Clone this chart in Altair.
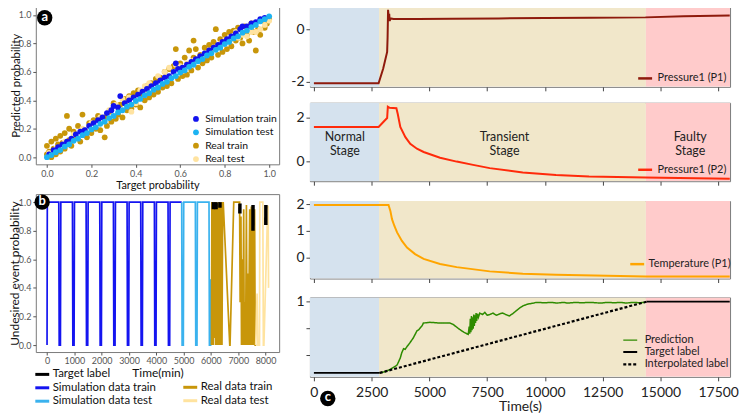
import altair as alt
import pandas as pd

FONT = "Lato"

# ================= (a) target vs predicted probability =================
a_series = ["Simulation train", "Simulation test", "Real train", "Real test"]
a_colors = ["#1212EE", "#1DB3F2", "#C8960A", "#FFE3A0"]

sim_train_pts = [(0.01, 0.02), (0.03, 0.05), (0.05, 0.07), (0.07, 0.09), (0.09, 0.11), (0.11, 0.13),
                 (0.13, 0.16), (0.15, 0.18), (0.17, 0.19), (0.19, 0.22), (0.21, 0.24), (0.23, 0.26),
                 (0.25, 0.28), (0.27, 0.31), (0.29, 0.33), (0.30, 0.36), (0.32, 0.35), (0.33, 0.43),
                 (0.35, 0.38), (0.37, 0.40), (0.39, 0.42), (0.41, 0.44), (0.43, 0.46), (0.45, 0.48),
                 (0.47, 0.50), (0.49, 0.52), (0.51, 0.54), (0.53, 0.56), (0.55, 0.57), (0.57, 0.60),
                 (0.58, 0.66), (0.59, 0.62), (0.61, 0.63), (0.63, 0.65), (0.65, 0.67), (0.67, 0.69),
                 (0.69, 0.71), (0.71, 0.73), (0.73, 0.75), (0.75, 0.77), (0.77, 0.79), (0.79, 0.81),
                 (0.81, 0.83), (0.83, 0.85), (0.85, 0.87), (0.87, 0.90), (0.88, 0.92), (0.90, 0.92),
                 (0.92, 0.94), (0.94, 0.95), (0.96, 0.97), (0.98, 0.98)]
sim_test_pts = [(0.00, 0.00), (0.02, 0.015), (0.04, 0.035), (0.06, 0.05), (0.08, 0.075), (0.10, 0.09),
                (0.12, 0.115), (0.14, 0.13), (0.16, 0.155), (0.18, 0.17), (0.20, 0.195), (0.22, 0.21),
                (0.24, 0.235), (0.26, 0.25), (0.28, 0.275), (0.30, 0.29), (0.32, 0.315), (0.34, 0.33),
                (0.36, 0.355), (0.38, 0.37), (0.40, 0.395), (0.42, 0.41), (0.44, 0.435), (0.46, 0.45),
                (0.48, 0.475), (0.50, 0.49), (0.52, 0.515), (0.54, 0.53), (0.56, 0.555), (0.58, 0.57),
                (0.60, 0.595), (0.62, 0.61), (0.64, 0.635), (0.66, 0.65), (0.68, 0.675), (0.70, 0.69),
                (0.72, 0.715), (0.74, 0.73), (0.76, 0.755), (0.78, 0.77), (0.80, 0.795), (0.82, 0.81),
                (0.84, 0.835), (0.86, 0.85), (0.88, 0.875), (0.90, 0.89), (0.92, 0.915), (0.94, 0.93),
                (0.96, 0.955), (0.98, 0.97), (1.00, 0.99)]
real_train_pts = [(0.00, 0.02), (0.00, 0.08), (0.01, 0.04), (0.02, 0.00), (0.02, 0.11), (0.03, 0.06),
                  (0.04, 0.02), (0.04, 0.13), (0.05, 0.09), (0.06, 0.04), (0.06, 0.15), (0.07, 0.10),
                  (0.08, 0.06), (0.08, 0.17), (0.09, 0.29), (0.10, 0.12), (0.10, 0.20), (0.11, 0.08),
                  (0.12, 0.18), (0.13, 0.14), (0.14, 0.22), (0.15, 0.11), (0.16, 0.30), (0.17, 0.19),
                  (0.18, 0.14), (0.19, 0.24), (0.20, 0.17), (0.21, 0.26), (0.22, 0.20), (0.23, 0.29),
                  (0.24, 0.19), (0.26, 0.14), (0.26, 0.28), (0.27, 0.22), (0.28, 0.32), (0.29, 0.25),
                  (0.30, 0.38), (0.31, 0.27), (0.32, 0.30), (0.33, 0.37), (0.34, 0.28), (0.35, 0.41),
                  (0.36, 0.33), (0.37, 0.43), (0.38, 0.34), (0.39, 0.45), (0.40, 0.37), (0.41, 0.47),
                  (0.42, 0.35), (0.43, 0.44), (0.44, 0.40), (0.45, 0.50), (0.46, 0.42), (0.47, 0.52),
                  (0.48, 0.44), (0.49, 0.55), (0.50, 0.46), (0.51, 0.56), (0.52, 0.49), (0.53, 0.60),
                  (0.54, 0.50), (0.55, 0.62), (0.56, 0.52), (0.57, 0.64), (0.58, 0.76), (0.59, 0.55),
                  (0.60, 0.66), (0.61, 0.57), (0.62, 0.70), (0.63, 0.58), (0.64, 0.75), (0.65, 0.61),
                  (0.66, 0.70), (0.67, 0.76), (0.68, 0.63), (0.69, 0.72), (0.70, 0.66), (0.71, 0.77),
                  (0.72, 0.68), (0.73, 0.79), (0.74, 0.70), (0.75, 0.81), (0.76, 0.90), (0.77, 0.72),
                  (0.78, 0.83), (0.79, 0.74), (0.80, 0.86), (0.81, 0.76), (0.82, 0.88), (0.83, 0.78),
                  (0.84, 0.89), (0.85, 0.82), (0.86, 0.91), (0.87, 0.84), (0.88, 0.80), (0.89, 0.92),
                  (0.90, 0.86), (0.91, 0.82), (0.92, 0.94), (0.93, 0.88), (0.94, 0.75), (0.95, 0.90),
                  (0.96, 0.86), (0.97, 0.96), (0.98, 0.91), (0.99, 0.94), (1.00, 0.97), (0.66, 0.82)]
real_test_pts = [(0.01, 0.03), (0.04, 0.06), (0.08, 0.11), (0.12, 0.16), (0.16, 0.20), (0.20, 0.24),
                 (0.24, 0.28), (0.28, 0.33), (0.31, 0.37), (0.34, 0.41), (0.36, 0.38), (0.38, 0.32),
                 (0.40, 0.38), (0.42, 0.47), (0.44, 0.50), (0.46, 0.52), (0.50, 0.57), (0.53, 0.60),
                 (0.55, 0.63), (0.58, 0.65), (0.60, 0.64), (0.63, 0.66), (0.66, 0.68), (0.70, 0.71),
                 (0.72, 0.73), (0.75, 0.76), (0.78, 0.80), (0.80, 0.82), (0.83, 0.83), (0.86, 0.84),
                 (0.88, 0.86), (0.90, 0.85), (0.92, 0.88), (0.94, 0.88), (0.96, 0.90), (0.98, 0.93),
                 (1.00, 0.96), (0.37, 0.42), (0.45, 0.46), (0.85, 0.88)]

# ================= (b) undesired event probability over time =================
b_sim_series = ["Target label", "Simulation data train", "Simulation data test"]
b_sim_colors = ["#000000", "#1414F0", "#3AB2EE"]
b_real_series = ["Real data train", "Real data test"]
b_real_colors = ["#C8960A", "#FFE39F"]

sim_data_train = [(0, 0), (10, 1), (430, 1), (445, 0), (490, 0), (505, 1), (930, 1), (945, 0), (990, 0),
                  (1005, 1), (1430, 1), (1445, 0), (1490, 0), (1505, 1), (1930, 1), (1945, 0), (1990, 0),
                  (2005, 1), (2430, 1), (2445, 0), (2490, 0), (2505, 1), (2930, 1), (2945, 0), (2990, 0),
                  (3005, 1), (3430, 1), (3445, 0), (3490, 0), (3505, 1), (3930, 1), (3945, 0), (3990, 0),
                  (4005, 1), (4430, 1), (4445, 0), (4490, 0), (4505, 1), (4930, 1)]
sim_data_test = [(4930, 1), (4945, 0), (4990, 0), (5005, 1), (5430, 1), (5445, 0), (5490, 0), (5505, 1),
                 (5930, 1), (5945, 0), (5990, 0), (5995, 0.46)]
real_data_train = [(6020, 0), (6035, 1), (6055, 0), (6075, 0.98), (6095, 0), (6115, 1), (6135, 0.05),
                   (6160, 0.97), (6180, 0), (6205, 1), (6225, 0), (6250, 0.99), (6270, 0), (6295, 1),
                   (6315, 0), (6340, 0.98), (6360, 0), (6385, 1), (6405, 0), (6430, 0.97), (6450, 1),
                   (6690, 0), (6700, 0), (6836, 1), (6850, 1), (7050, 1), (7070, 0.3), (7100, 0.9),
                   (7120, 0), (7150, 0.6), (7170, 0), (7200, 0.95), (7220, 0), (7250, 0.3), (7270, 0),
                   (7300, 0.98), (7320, 0), (7350, 0.5), (7380, 0), (7420, 0.95), (7440, 0), (7480, 0.97),
                   (7500, 0), (7540, 0.9), (7560, 0), (7600, 0.95), (7620, 0), (7660, 0)]
real_data_test = [(7640, 0), (7690, 0.36), (7720, 0), (7780, 0), (7790, 1), (7900, 1), (7920, 0),
                  (7940, 0), (8080, 0.97), (8095, 0.97), (8110, 0.40)]
target_visible = [("s1", 6090, 0.95), ("s1", 6092, 1.0), ("s2", 6190, 0.95), ("s2", 6192, 1.0),
                  ("s3", 6330, 0.96), ("s3", 6332, 1.0), ("s4", 7060, 0.92), ("s4", 7062, 0.99),
                  ("s5", 7540, 0.80), ("s5", 7542, 0.98), ("s6", 8010, 0.84), ("s6", 8012, 0.98)]

# ================= (c) case study: signals and prediction =================
stage_names = ["Normal", "Transient", "Faulty"]
stage_start = [-172, 2820, 14370]
stage_end = [2820, 14370, 18014]
stage_colors = ["#D5E2EE", "#F1E7CA", "#FFCBCB"]
stage_labels = ["Normal\nStage", "Transient\nStage", "Faulty\nStage"]
stage_label_t = [1340, 8250, 16290]
stage_label_v = [1.12, 1.12, 1.12]

pressure_p1 = [(0, -2.06), (2800, -2.06), (3000, -1.5), (3170, -0.86), (3190, -0.3), (3210, 0.75),
               (3240, 0.45), (3260, 0.6), (3280, 0.32), (3320, 0.42), (3450, 0.40), (4500, 0.40),
               (6000, 0.41), (8000, 0.42), (10000, 0.44), (12000, 0.45), (14350, 0.46), (16000, 0.50),
               (18000, 0.53)]
pressure_p2 = [(0, 1.59), (2800, 1.59), (3170, 2.0), (3200, 2.52), (3280, 2.47), (3570, 2.45),
               (3630, 2.18), (3740, 1.59), (3960, 1.12), (4170, 0.82), (4460, 0.59), (4750, 0.44),
               (5460, 0.18), (6180, 0.0), (6890, -0.15), (7610, -0.3), (9040, -0.5), (10480, -0.61),
               (11910, -0.68), (14350, -0.73), (18000, -0.79)]
temperature_p1 = [(0, 1.97), (3230, 1.97), (3310, 1.75), (3380, 1.44), (3480, 1.19), (3600, 0.94),
                  (3810, 0.62), (4030, 0.37), (4380, 0.12), (4750, -0.06), (5460, -0.25), (6180, -0.37),
                  (7610, -0.53), (9040, -0.62), (10480, -0.66), (14350, -0.72), (18000, -0.72)]
prediction = [(2850, 0.0), (3100, 0.02), (3310, 0.05), (3600, 0.11), (3740, 0.21), (3800, 0.28),
              (3880, 0.34), (3950, 0.33), (4030, 0.37), (4150, 0.42), (4300, 0.49), (4460, 0.59),
              (4550, 0.61), (4600, 0.63), (4680, 0.66), (4740, 0.70), (5030, 0.71), (5460, 0.70),
              (5890, 0.70), (6030, 0.68), (6310, 0.61), (6500, 0.57), (6680, 0.54), (6720, 0.65),
              (6745, 0.55), (6770, 0.76), (6795, 0.57), (6820, 0.80), (6845, 0.60), (6870, 0.78),
              (6895, 0.62), (6920, 0.82), (6945, 0.66), (6970, 0.81), (6995, 0.70), (7020, 0.84),
              (7045, 0.73), (7080, 0.83), (7120, 0.78), (7180, 0.84), (7300, 0.82), (7400, 0.85),
              (7500, 0.81), (7610, 0.82), (7750, 0.84), (7900, 0.81), (8050, 0.83), (8170, 0.84),
              (8300, 0.82), (8460, 0.80), (8600, 0.83), (8750, 0.87), (8900, 0.91), (9040, 0.94),
              (9200, 0.96), (9320, 0.97), (9500, 0.98), (9610, 0.99), (10000, 0.985), (10300, 0.99),
              (10500, 0.98), (10800, 0.99), (11000, 0.98), (11300, 0.99), (11600, 0.985), (12000, 0.99),
              (12400, 0.98), (12700, 0.99), (13000, 0.985), (13300, 0.99), (13500, 0.98), (13800, 0.99),
              (14100, 0.985), (14300, 0.99)]
target_label_c = [("pre", 0, 0.0), ("pre", 2850, 0.0), ("post", 14400, 1.0), ("post", 18000, 1.0)]
interpolated_label = [(2850, 0.0), (14400, 1.0)]
c_series = ["Prediction", "Target label", "Interpolated label"]
c_colors = ["#2E8B00", "#000000", "#000000"]

panel_letters = ["a", "b", "c"]

LINE_SYMBOL = "M-1.4,0L1.4,0"


# ----------------------------------------------------------------------------
def xy_df(pairs, series, start=0):
    return pd.DataFrame({"x": [p[0] for p in pairs], "y": [p[1] for p in pairs],
                         "series": series, "z": list(range(start, start + len(pairs)))})


def tv_df(pairs, series, seg=None):
    return pd.DataFrame({"t": [p[0] for p in pairs], "v": [p[1] for p in pairs],
                         "series": series, "seg": seg if seg else series, "i": list(range(len(pairs)))})


GRAY = "#555555"

# ---------------- panel a ----------------
a_df = pd.concat([
    xy_df(real_train_pts, "Real train", 0),
    xy_df(real_test_pts, "Real test", 1000),
    xy_df(sim_train_pts, "Simulation train", 2000),
    xy_df(sim_test_pts, "Simulation test", 3000),
], ignore_index=True)

a_xs = alt.Scale(domain=[-0.05, 1.045], nice=False, zero=False)
a_ys = alt.Scale(domain=[-0.05, 1.06], nice=False, zero=False)
prob_ticks = [0.0, 0.2, 0.4, 0.6, 0.8, 1.0]
a_xax = alt.Axis(values=prob_ticks, format=".1f", labelFontSize=9, labelColor=GRAY, tickColor=GRAY,
                 tickSize=3, labelPadding=2, domain=False, grid=False, title="Target probability",
                 titleFontSize=11, titleFontWeight="normal", titleColor="#111", titlePadding=1,
                 labelFlush=False)
a_yax = alt.Axis(values=prob_ticks, format=".1f", labelFontSize=9, labelColor=GRAY, tickColor=GRAY,
                 tickSize=3, labelPadding=2, domain=False, grid=False, title="Predicted probability",
                 titleFontSize=11.5, titleFontWeight="normal", titleColor="#111", titlePadding=0,
                 minExtent=14, maxExtent=14)
ax = alt.X("x:Q", scale=a_xs, axis=a_xax)
ay = alt.Y("y:Q", scale=a_ys, axis=a_yax)

a_points = alt.Chart(a_df).mark_circle(opacity=1).encode(
    x=ax, y=ay,
    color=alt.Color("series:N", scale=alt.Scale(domain=a_series, range=a_colors),
                    legend=alt.Legend(orient="none", legendX=156, legendY=108, title=None,
                                      labelFontSize=10.5, labelFont=FONT, labelColor="#111",
                                      symbolType="circle", symbolSize=75, symbolStrokeWidth=0,
                                      rowPadding=2.5, padding=0, labelOffset=4)),
    size=alt.Size("series:O", scale=alt.Scale(domain=a_series, range=[34, 34, 24, 24]), legend=None),
    order=alt.Order("z:Q"),
)
a_lab = pd.DataFrame({"x": [-0.01], "y": [0.98], "txt": [panel_letters[0]]})
a_c = alt.Chart(a_lab).mark_circle(color="black", opacity=1, size=240).encode(x=ax, y=ay)
a_t = alt.Chart(a_lab).mark_text(color="white", fontSize=13, fontWeight="bold", baseline="middle",
                                 dy=-1).encode(x=ax, y=ay, text="txt:N")
panel_a = alt.layer(a_points, a_c, a_t).properties(width=245, height=159)

# ---------------- panel b ----------------
b_sim_df = pd.concat([tv_df(sim_data_train, "Simulation data train"),
                      tv_df(sim_data_test, "Simulation data test")], ignore_index=True)
b_real_df = pd.concat([tv_df(real_data_train, "Real data train"),
                       tv_df(real_data_test, "Real data test")], ignore_index=True)
b_tgt_df = pd.DataFrame({"seg": [p[0] for p in target_visible], "t": [p[1] for p in target_visible],
                         "v": [p[2] for p in target_visible]})

b_xs = alt.Scale(domain=[-411, 8498], nice=False, zero=False)
b_ys = alt.Scale(domain=[-0.049, 1.056], nice=False, zero=False)
b_xax = alt.Axis(values=[0, 1000, 2000, 3000, 4000, 5000, 6000, 7000, 8000], format="d", labelFontSize=9,
                 labelColor=GRAY, tickColor=GRAY, tickSize=3, labelPadding=2, domain=False, grid=False,
                 title="Time(min)", titleFontSize=12, titleFontWeight="normal", titleColor="#111",
                 titlePadding=2, labelFlush=False, labelOverlap=False)
b_yax = alt.Axis(values=prob_ticks, format=".1f", labelFontSize=9, labelColor=GRAY, tickColor=GRAY,
                 tickSize=3, labelPadding=2, domain=False, grid=False, title="Undesired event probability",
                 titleFontSize=12, titleFontWeight="normal", titleColor="#111", titlePadding=0,
                 minExtent=14, maxExtent=14)
bx = alt.X("t:Q", scale=b_xs, axis=b_xax)
by = alt.Y("v:Q", scale=b_ys, axis=b_yax)

b_leg_common = dict(orient="none", title=None, labelFontSize=11.5, labelFont=FONT, labelColor="#111",
                    symbolType=LINE_SYMBOL, symbolSize=100, symbolStrokeWidth=3, padding=0, labelOffset=4,
                    rowPadding=0.5)
b_sim = alt.Chart(b_sim_df).mark_line(strokeWidth=1.7).encode(
    x=bx, y=by, order=alt.Order("i:Q"),
    color=alt.Color("series:N", scale=alt.Scale(domain=b_sim_series, range=b_sim_colors),
                    legend=alt.Legend(legendX=0, legendY=175, **b_leg_common)),
)
b_real = alt.Chart(b_real_df).mark_line(strokeWidth=1.7).encode(
    x=bx, y=by, order=alt.Order("i:Q"),
    color=alt.Color("series:N", scale=alt.Scale(domain=b_real_series, range=b_real_colors),
                    legend=alt.Legend(legendX=149, legendY=188, **b_leg_common)),
)
b_tgt = alt.Chart(b_tgt_df).mark_line(strokeWidth=3.5, color="black").encode(
    x=bx, y=by, detail="seg:N")
b_lab = pd.DataFrame({"t": [-180], "v": [1.0], "txt": [panel_letters[1]]})
b_c = alt.Chart(b_lab).mark_circle(color="black", opacity=1, size=240).encode(x=bx, y=by)
b_t = alt.Chart(b_lab).mark_text(color="white", fontSize=13, fontWeight="bold", baseline="middle",
                                 dy=-1).encode(x=bx, y=by, text="txt:N")
panel_b = alt.layer(b_sim, b_real, b_tgt, b_c, b_t).resolve_scale(color="independent").properties(
    width=245, height=159)

left = alt.vconcat(panel_a, panel_b, spacing=2)

# ---------------- panel c ----------------
c_xs = alt.Scale(domain=[-172, 18014], nice=False, zero=False)
c_ticks = [0, 2500, 5000, 7500, 10000, 12500, 15000, 17500]


def c_xaxis(labels):
    if labels:
        return alt.Axis(values=c_ticks, format="d", labels=True, labelFontSize=14, labelColor="#222",
                        tickSize=4, tickColor="#444", domain=False, grid=False, title="Time(s)",
                        titleFontSize=14, titleFontWeight="normal", titleColor="#222", titlePadding=0,
                        labelPadding=5, labelFlush=False, labelOverlap=False)
    return alt.Axis(values=c_ticks, labels=False, tickSize=4, tickColor="#444", domain=False, grid=False,
                    title=None, minExtent=4, maxExtent=4)


def c_yaxis(values, expr):
    return alt.Axis(values=values, labelExpr=expr, labelFontSize=14, labelColor="#222", tickSize=4,
                    tickColor="#444", domain=False, grid=False, title=None, minExtent=20, maxExtent=20,
                    labelPadding=2)


stage_df = pd.DataFrame({"stage": stage_names, "start": stage_start, "end": stage_end})
MINUS_EXPR = "datum.value < 0 ? '-' + abs(datum.value) : '' + datum.value"


def stage_layer(xax):
    return alt.Chart(stage_df).mark_rect(clip=True).encode(
        x=alt.X("start:Q", scale=c_xs, axis=xax), x2="end:Q",
        fill=alt.Fill("stage:N", scale=alt.Scale(domain=stage_names, range=stage_colors), legend=None))


def c_legend(x, y, offset=4):
    return alt.Legend(orient="none", legendX=x, legendY=y, title=None, labelFontSize=11, labelFont=FONT,
                      labelColor="#222", symbolType=LINE_SYMBOL, symbolSize=100, symbolStrokeWidth=2.5,
                      padding=0, labelOffset=offset, rowPadding=1)


def signal_panel(pairs, name, color, ydom, yvals, leg_xy):
    xax = c_xaxis(False)
    ys = alt.Scale(domain=ydom, nice=False, zero=False)
    line = alt.Chart(tv_df(pairs, name)).mark_line(strokeWidth=2).encode(
        x=alt.X("t:Q", scale=c_xs, axis=xax),
        y=alt.Y("v:Q", scale=ys, axis=c_yaxis(yvals, MINUS_EXPR)),
        stroke=alt.Stroke("series:N", scale=alt.Scale(domain=[name], range=[color]),
                          legend=c_legend(leg_xy[0], leg_xy[1], offset=leg_xy[2])),
    )
    return stage_layer(xax), line, ys


s1, l1, _ = signal_panel(pressure_p1, "Pressure1 (P1)", "#8E1A0C", [-2.2, 0.88], [-2, 0], (331, 66, 6))
panel_c1 = alt.layer(s1, l1).properties(width=423, height=81)

s2, l2, ys2 = signal_panel(pressure_p2, "Pressure1 (P2)", "#FF2A0A", [-0.9, 2.7], [0, 2], (331, 61, 6))
st_df = pd.DataFrame({"t": stage_label_t, "v": stage_label_v, "txt": stage_labels})
st_text = alt.Chart(st_df).mark_text(fontSize=12.5, color="#222", lineBreak="\n", baseline="middle",
                                     lineHeight=14).encode(
    x=alt.X("t:Q", scale=c_xs, axis=c_xaxis(False)), y=alt.Y("v:Q", scale=ys2), text="txt:N")
panel_c2 = alt.layer(s2, l2, st_text).properties(width=423, height=79)

s3, l3, _ = signal_panel(temperature_p1, "Temperature (P1)", "#FFA500", [-0.8, 2.12], [0, 1, 2],
                         (323, 57, 5))
panel_c3 = alt.layer(s3, l3).properties(width=423, height=78)

c4_df = pd.concat([
    tv_df(prediction, "Prediction"),
    pd.DataFrame({"t": [p[1] for p in target_label_c], "v": [p[2] for p in target_label_c],
                  "series": "Target label", "seg": [p[0] for p in target_label_c],
                  "i": list(range(len(target_label_c)))}),
    tv_df(interpolated_label, "Interpolated label"),
], ignore_index=True)
c4_xax = c_xaxis(True)
c4_ys = alt.Scale(domain=[-0.056, 1.06], nice=False, zero=False)
c4x = alt.X("t:Q", scale=c_xs, axis=c4_xax)
c4y = alt.Y("v:Q", scale=c4_ys, axis=c_yaxis([0.25, 0.625, 1.0], "datum.value == 1 ? '1' : ''"))
c4_leg = c_legend(316, 37, offset=8)
c4_lines = alt.Chart(c4_df).mark_line().encode(
    x=c4x, y=c4y, detail="seg:N",
    stroke=alt.Stroke("series:N", scale=alt.Scale(domain=c_series, range=c_colors), legend=c4_leg),
    strokeDash=alt.StrokeDash("series:N", scale=alt.Scale(domain=c_series, range=[[1, 0], [1, 0], [3, 2]]),
                              legend=c4_leg),
    strokeWidth=alt.StrokeWidth("series:N", scale=alt.Scale(domain=c_series, range=[1.5, 2.2, 1.6]),
                                legend=None),
)
c_lab = pd.DataFrame({"t": [600], "v": [-0.36], "txt": [panel_letters[2]]})
c_c = alt.Chart(c_lab).mark_circle(color="black", opacity=1, size=240).encode(x=c4x, y=c4y)
c_t = alt.Chart(c_lab).mark_text(color="white", fontSize=13, fontWeight="bold", baseline="middle",
                                 dy=-1).encode(x=c4x, y=c4y, text="txt:N")
panel_c4 = alt.layer(stage_layer(c4_xax), c4_lines, c_c, c_t).properties(width=423, height=80)

RES = dict(color="independent", stroke="independent", fill="independent", strokeDash="independent",
           size="independent", strokeWidth="independent")

right = alt.vconcat(panel_c1, panel_c2, panel_c3, panel_c4, spacing=10).resolve_scale(**RES)
left = left.resolve_scale(**RES)

chart = alt.hconcat(left, right, spacing=9).resolve_scale(**RES).properties(
    padding={"left": 0, "top": -5, "right": 0, "bottom": 0}).configure(
    font=FONT).configure_view(stroke="#7a7a7a", strokeWidth=1)

chart.save("out.html", embed_options={"renderer": "svg", "actions": False})
